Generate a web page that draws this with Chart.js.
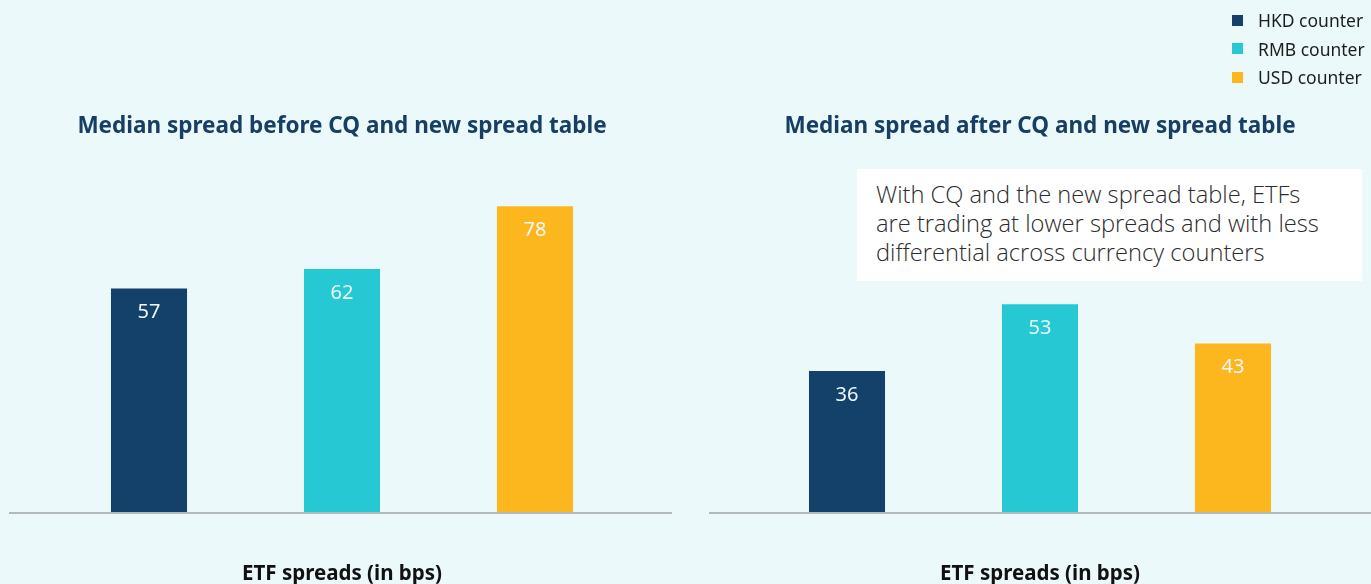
<!DOCTYPE html>
<html lang="en">
<head>
  <meta charset="UTF-8">
  <title>Median ETF spreads before and after CQ</title>
  <script src="https://cdn.jsdelivr.net/npm/chart.js"></script>
  <style>
    html, body { margin: 0; padding: 0; }
    body {
      width: 1371px;
      height: 584px;
      background: #ebf9fa;
      position: relative;
      overflow: hidden;
      font-family: "Noto Sans", sans-serif;
    }
    .panel { position: absolute; top: 0; height: 584px; }
    #panel-before { left: 0; width: 684px; }
    #panel-after { left: 709px; width: 662px; }
    #legend {
      position: absolute;
      left: 1232px;
      top: 6px;
      margin: 0;
      padding: 0;
      list-style: none;
    }
    #legend li {
      display: flex;
      align-items: center;
      height: 28.5px;
      font-size: 17.5px;
      color: #1e1e1e;
      white-space: nowrap;
    }
    #legend .swatch {
      width: 11px;
      height: 11px;
      margin-right: 15px;
    }
    #note {
      position: absolute;
      left: 857px;
      top: 169px;
      width: 505px;
      height: 112px;
      box-sizing: border-box;
      padding: 11px 0 0 19px;
      background: #fff;
      font-family: "Open Sans", sans-serif;
      font-weight: 300;
      font-size: 23.7px;
      line-height: 29px;
      color: #2b2b2b;
      white-space: nowrap;
    }
  </style>
</head>
<body>
  <div class="panel" id="panel-before"><canvas id="chartBefore"></canvas></div>
  <div class="panel" id="panel-after"><canvas id="chartAfter"></canvas></div>
  <ul id="legend"></ul>
  <div id="note">With CQ and the new spread table, ETFs<br>are trading at lower spreads and with less<br>differential across currency counters</div>

  <script>
    // chart data
    const counters = ['HKD counter', 'RMB counter', 'USD counter'];
    const counterColors = ['#134169', '#26c9d3', '#fdb71e'];
    const spreadBefore = [57, 62, 78];
    const spreadAfter = [36, 53, 43];
    const titleBefore = 'Median spread before CQ and new spread table';
    const titleAfter = 'Median spread after CQ and new spread table';
    const axisTitle = 'ETF spreads (in bps)';

    // value written inside the top of each bar
    const barValues = {
      id: 'barValues',
      afterDatasetsDraw(chart) {
        const ctx = chart.ctx;
        const meta = chart.getDatasetMeta(0);
        ctx.save();
        ctx.font = '20px "Noto Sans", sans-serif';
        ctx.fillStyle = '#eef8fa';
        ctx.textAlign = 'center';
        ctx.textBaseline = 'middle';
        meta.data.forEach((bar, i) => {
          ctx.fillText(chart.data.datasets[0].data[i], bar.x, bar.y + 24);
        });
        ctx.restore();
      }
    };

    // grey baseline running wider than the plot area
    const baseline = {
      id: 'baseline',
      afterDatasetsDraw(chart, args, opts) {
        const ctx = chart.ctx;
        const y = chart.scales.y.getPixelForValue(0);
        ctx.save();
        ctx.strokeStyle = '#b3b8bb';
        ctx.lineWidth = 2;
        ctx.beginPath();
        ctx.moveTo(opts.from, y + 1);
        ctx.lineTo(opts.to, y + 1);
        ctx.stroke();
        ctx.restore();
      }
    };

    function makeChart(canvasId, values, title, pad, line) {
      return new Chart(document.getElementById(canvasId), {
        type: 'bar',
        data: {
          labels: counters,
          datasets: [{
            label: title,
            data: values,
            backgroundColor: counterColors,
            categoryPercentage: 1,
            barPercentage: 0.394
          }]
        },
        options: {
          responsive: true,
          maintainAspectRatio: false,
          animation: false,
          layout: { padding: { left: pad, right: pad, top: 0, bottom: 0 } },
          plugins: {
            legend: { display: false },
            tooltip: { enabled: false },
            title: {
              display: true,
              text: title,
              color: '#173f66',
              font: { family: '"Noto Sans", sans-serif', size: 22.5, weight: 'bold', lineHeight: 1.2 },
              padding: { top: 113.5, bottom: 57.9 }
            },
            baseline: line
          },
          scales: {
            x: {
              grid: { display: false, drawTicks: false },
              border: { display: false },
              ticks: { display: false },
              title: {
                display: true,
                text: axisTitle,
                color: '#111',
                font: { family: '"Noto Sans", sans-serif', size: 20.5, weight: 'bold', lineHeight: 1 },
                padding: { top: 51.5, bottom: 0 }
              }
            },
            y: {
              display: false,
              min: 0,
              max: 80
            }
          }
        },
        plugins: [barValues, baseline]
      });
    }

    makeChart('chartBefore', spreadBefore, titleBefore, 52.5, { from: 9, to: 672 });
    makeChart('chartAfter', spreadAfter, titleAfter, 41.5, { from: 0, to: 662 });

    // legend built from the same arrays
    const legend = document.getElementById('legend');
    counters.forEach((name, i) => {
      const li = document.createElement('li');
      const sw = document.createElement('span');
      sw.className = 'swatch';
      sw.style.background = counterColors[i];
      li.appendChild(sw);
      li.appendChild(document.createTextNode(name));
      legend.appendChild(li);
    });
  </script>
</body>
</html>
